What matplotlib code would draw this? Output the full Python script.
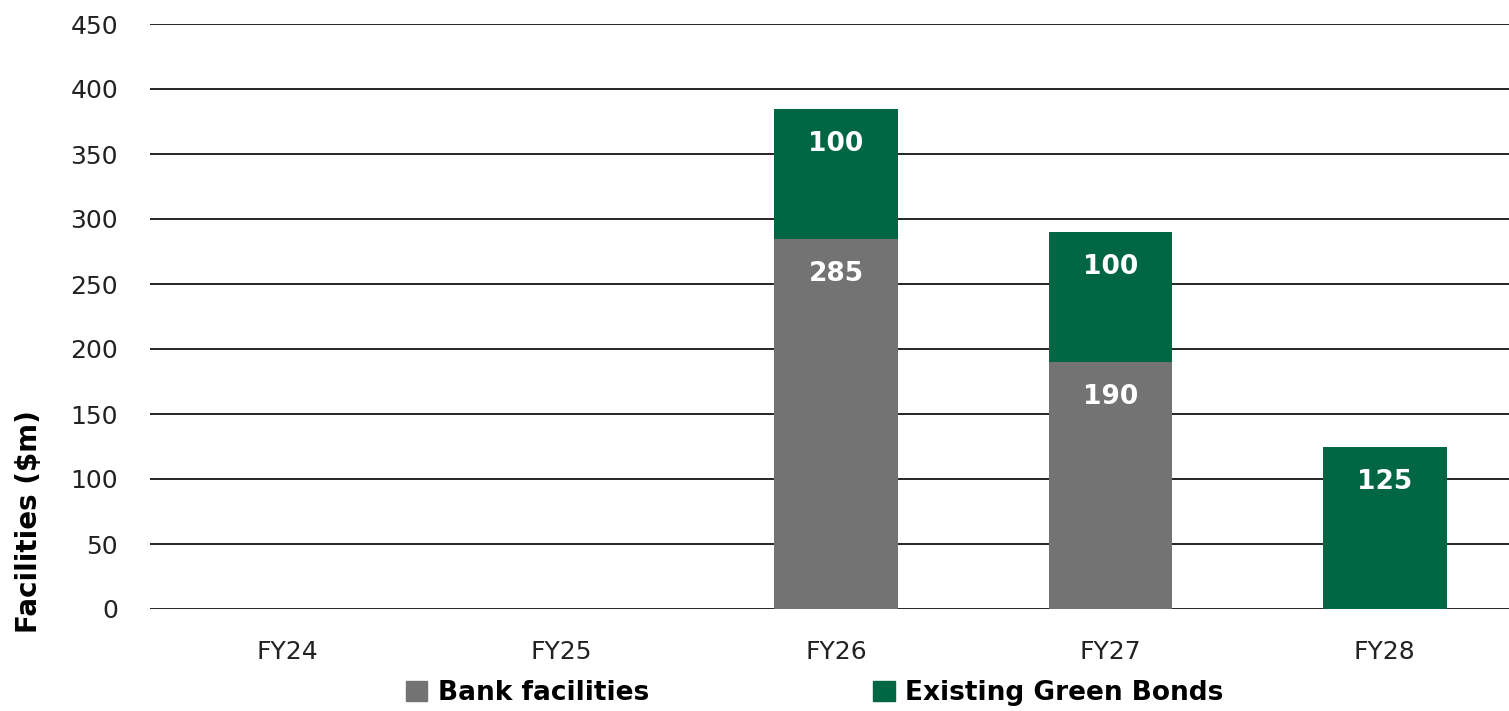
import numpy as np
import matplotlib.pyplot as plt
from matplotlib.patches import Patch

plt.rcParams['font.family'] = ['DejaVu Sans']

# donnees
categories = ["FY24", "FY25", "FY26", "FY27", "FY28"]
bank = [0, 0, 285, 190, 0]
green_bonds = [0, 0, 100, 100, 125]
series_names = ["Bank facilities", "Existing Green Bonds"]

gris = "#737373"
vert = "#006644"

fig = plt.figure(figsize=(15.09, 7.11), dpi=100)
ax = fig.add_axes([150/1509, 1 - 609/711, 1372/1509, 585/711])

x = np.arange(len(categories))
w = 0.45
ax.bar(x, bank, w, color=gris, zorder=3)
ax.bar(x, green_bonds, w, bottom=bank, color=vert, zorder=3)

# etiquettes des valeurs
for i in range(len(categories)):
    if bank[i] > 0:
        ax.text(x[i], bank[i] - 27, "%d" % bank[i], ha="center", va="center",
                color="white", fontsize=19, fontweight="bold", zorder=4)
    if green_bonds[i] > 0:
        ax.text(x[i], bank[i] + green_bonds[i] - 27, "%d" % green_bonds[i],
                ha="center", va="center", color="white", fontsize=19,
                fontweight="bold", zorder=4)

ax.set_xlim(-0.5, len(categories) - 0.5)
ax.set_ylim(0, 450)
ax.set_yticks(np.arange(0, 451, 50))
ax.set_xticks(x)
ax.set_xticklabels(categories)
ax.grid(axis="y", color="black", linewidth=1.2, zorder=0)
for s in ax.spines.values():
    s.set_visible(False)
ax.tick_params(axis="both", length=0, labelsize=18, colors="#222222")
ax.tick_params(axis="y", pad=23)
ax.tick_params(axis="x", pad=22)
ax.set_ylabel("Facilities ($m)", fontsize=20, fontweight="bold")
ax.yaxis.set_label_coords(-0.078, 0.15)

handles = [Patch(color=gris), Patch(color=vert)]
fig.legend(handles, series_names, loc="center", bbox_to_anchor=(0.54, 0.025),
           ncol=2, frameon=False, prop={"size": 19, "weight": "bold"},
           handlelength=0.8, handleheight=0.8, handletextpad=0.4,
           columnspacing=8.5)

plt.savefig("out.png", dpi=100)
